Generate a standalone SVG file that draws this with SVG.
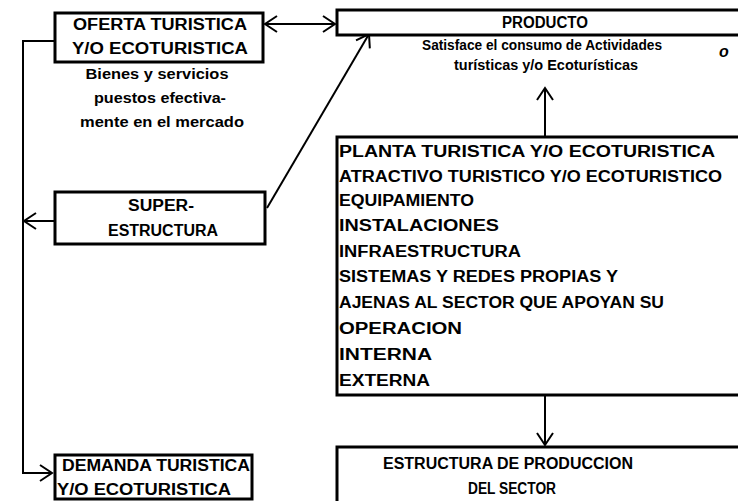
<svg xmlns="http://www.w3.org/2000/svg" width="738" height="501" viewBox="0 0 738 501">
<style>
.box{fill:#fff;stroke:#000;stroke-width:3}
.t{font-family:"Liberation Sans",Arial,sans-serif;font-weight:bold;font-size:16px;fill:#000}
.s{font-size:15px}
.m{text-anchor:middle}
.c{fill:none;stroke:#000;stroke-width:2}
</style>
<defs>
<marker id="ah" markerUnits="userSpaceOnUse" markerWidth="16" markerHeight="18" viewBox="0 0 16 18" refX="13" refY="9" orient="auto-start-reverse">
<path d="M1,1 L13,9 L1,17" fill="none" stroke="#000" stroke-width="2"/>
</marker>
</defs>
<rect width="738" height="501" fill="#fff"/>
<g id="connectors">
<line class="c" x1="265" y1="24" x2="335" y2="24" marker-start="url(#ah)" marker-end="url(#ah)"/>
<line class="c" x1="267" y1="208" x2="369" y2="34" marker-end="url(#ah)"/>
<path class="c" d="M55,41 H23 V473 H52" marker-end="url(#ah)"/>
<line class="c" x1="55" y1="221" x2="24" y2="221" marker-end="url(#ah)"/>
<line class="c" x1="545" y1="136" x2="545" y2="88" marker-end="url(#ah)"/>
<line class="c" x1="545" y1="396" x2="545" y2="445" marker-end="url(#ah)"/>
</g>
<g id="oferta">
<rect class="box" x="55" y="13" width="208" height="49" stroke-width="4"/>
<text class="t m" x="160" y="30" textLength="174" lengthAdjust="spacingAndGlyphs">OFERTA TURISTICA</text>
<text class="t m" x="160" y="54" textLength="176" lengthAdjust="spacingAndGlyphs">Y/O ECOTURISTICA</text>
<text class="t s m" x="157" y="79" textLength="143" lengthAdjust="spacingAndGlyphs">Bienes y servicios</text>
<text class="t s m" x="160" y="103" textLength="132" lengthAdjust="spacingAndGlyphs">puestos efectiva-</text>
<text class="t s m" x="162" y="127" textLength="164" lengthAdjust="spacingAndGlyphs">mente en el mercado</text>
</g>
<g id="producto">
<rect class="box" x="337" y="10" width="420" height="25"/>
<text class="t m" x="545" y="28" textLength="86" lengthAdjust="spacingAndGlyphs">PRODUCTO</text>
<text class="t s m" x="542" y="50" textLength="240" lengthAdjust="spacingAndGlyphs">Satisface el consumo de Actividades</text>
<text class="t s m" x="546" y="70" textLength="184" lengthAdjust="spacingAndGlyphs">turísticas y/o Ecoturísticas</text>
<text class="t" x="719" y="57" font-style="italic" font-size="17">o</text>
</g>
<g id="superestructura">
<rect class="box" x="55" y="192" width="210" height="52"/>
<text class="t m" x="161" y="211" textLength="66" lengthAdjust="spacingAndGlyphs">SUPER-</text>
<text class="t m" x="163" y="236" textLength="110" lengthAdjust="spacingAndGlyphs">ESTRUCTURA</text>
</g>
<g id="planta">
<rect class="box" x="337" y="137" width="420" height="258"/>
<text class="t" x="339" y="157" textLength="376" lengthAdjust="spacingAndGlyphs">PLANTA TURISTICA Y/O ECOTURISTICA</text>
<text class="t" x="339" y="182" textLength="383" lengthAdjust="spacingAndGlyphs">ATRACTIVO TURISTICO Y/O ECOTURISTICO</text>
<text class="t" x="339" y="206" textLength="135" lengthAdjust="spacingAndGlyphs">EQUIPAMIENTO</text>
<text class="t" x="339" y="231" textLength="160" lengthAdjust="spacingAndGlyphs">INSTALACIONES</text>
<text class="t" x="339" y="257" textLength="182" lengthAdjust="spacingAndGlyphs">INFRAESTRUCTURA</text>
<text class="t" x="339" y="282" textLength="279" lengthAdjust="spacingAndGlyphs">SISTEMAS Y REDES PROPIAS Y</text>
<text class="t" x="339" y="308" textLength="325" lengthAdjust="spacingAndGlyphs">AJENAS AL SECTOR QUE APOYAN SU</text>
<text class="t" x="339" y="334" textLength="123" lengthAdjust="spacingAndGlyphs">OPERACION</text>
<text class="t" x="339" y="360" textLength="93" lengthAdjust="spacingAndGlyphs">INTERNA</text>
<text class="t" x="339" y="386" textLength="91" lengthAdjust="spacingAndGlyphs">EXTERNA</text>
</g>
<g id="estructura">
<rect class="box" x="337" y="447" width="420" height="60"/>
<text class="t m" x="508" y="469" textLength="250" lengthAdjust="spacingAndGlyphs">ESTRUCTURA DE PRODUCCION</text>
<text class="t m" x="512" y="494" textLength="88" lengthAdjust="spacingAndGlyphs">DEL SECTOR</text>
</g>
<g id="demanda">
<rect class="box" x="55" y="455" width="197" height="44"/>
<text class="t" x="62" y="471" textLength="188" lengthAdjust="spacingAndGlyphs">DEMANDA TURISTICA</text>
<text class="t" x="57" y="495" textLength="174" lengthAdjust="spacingAndGlyphs">Y/O ECOTURISTICA</text>
</g>
</svg>
